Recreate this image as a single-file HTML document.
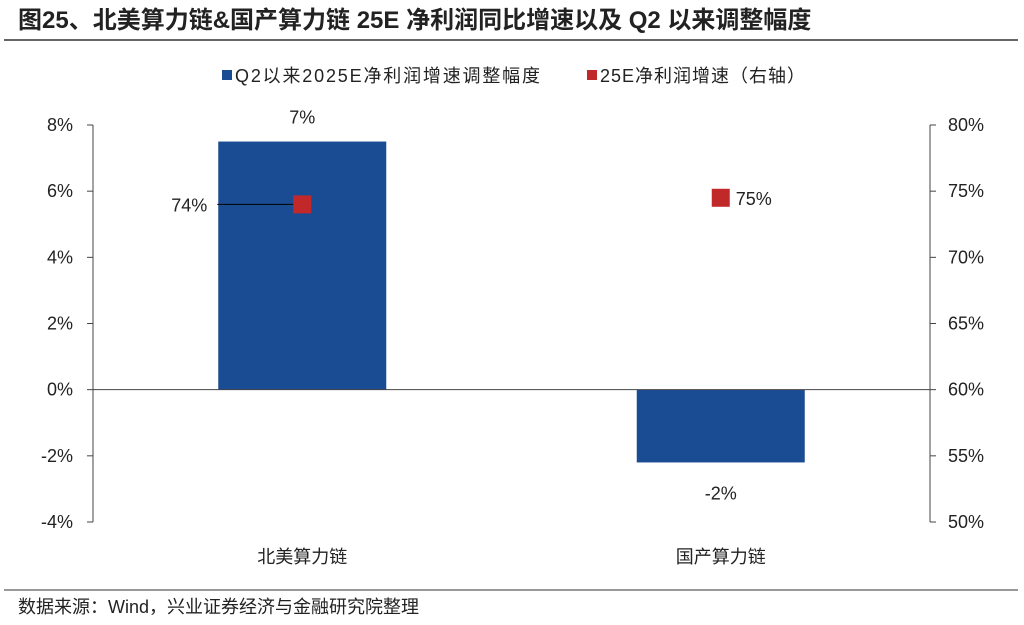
<!DOCTYPE html>
<html><head><meta charset="utf-8"><style>
body{margin:0;width:1024px;height:620px;background:#fff;font-family:"Liberation Sans","Noto Sans CJK SC",sans-serif;overflow:hidden}
svg text{font-family:"Liberation Sans","Noto Sans CJK SC",sans-serif}
</style></head><body>
<svg id="chart" width="1024" height="620">
<text x="18" y="28" font-size="24" font-weight="bold" fill="#222">图25、北美算力链&amp;国产算力链 25E 净利润同比增速以及 Q2 以来调整幅度</text>
<line x1="4" y1="40" x2="1018" y2="40" stroke="#333" stroke-width="1.5"/>
<g>
<rect x="222" y="70" width="10" height="10" fill="#1a4c94"/>
<text x="235" y="82" font-size="18" fill="#222" textLength="305">Q2以来2025E净利润增速调整幅度</text>
<rect x="587" y="70" width="10" height="10" fill="#c0282a"/>
<text x="600" y="82" font-size="18" fill="#222" textLength="205">25E净利润增速（右轴）</text>
</g>
<g id="plot"></g>
<line x1="4" y1="590" x2="1018" y2="590" stroke="#333" stroke-width="1"/>
<text x="18" y="613" font-size="18" fill="#222">数据来源：Wind，兴业证券经济与金融研究院整理</text>
</svg>
<script>
const categories=["北美算力链","国产算力链"];
const adjustValues=[7.5,-2.2];
const adjustLabels=["7%","-2%"];
const growthValues=[74.0,74.5];
const growthLabels=["74%","75%"];
const leftTicks=[-4,-2,0,2,4,6,8];
const rightTicks=[50,55,60,65,70,75,80];
const NS="http://www.w3.org/2000/svg";
const g=document.getElementById("plot");
const X0=93,X1=930,YT=125,YB=522;
const yL=v=>YB-(v+4)/12*(YB-YT);
const yR=v=>YB-(v-50)/30*(YB-YT);
const band=(X1-X0)/categories.length;
const xC=i=>X0+band*(i+0.5);
function mk(t,a,txt){const e=document.createElementNS(NS,t);for(const k in a)e.setAttribute(k,a[k]);if(txt!=null)e.textContent=txt;g.appendChild(e);return e;}
let e;
e=mk("line",{x1:X0,y1:YT,x2:X0,y2:YB,stroke:"#444"});


e=mk("line",{x1:X1,y1:YT,x2:X1,y2:YB,stroke:"#444"});


leftTicks.forEach(v=>{
 const y=yL(v);
 e=mk("line",{x1:X0-6,y1:y,x2:X0,y2:y,stroke:"#444"});
 
 
 e=mk("text",{x:X0-20,y:y+6,"text-anchor":"end","font-size":18,fill:"#222"},v+"%");
 
 
});
rightTicks.forEach(v=>{
 const y=yR(v);
 e=mk("line",{x1:X1,y1:y,x2:X1+6,y2:y,stroke:"#444"});
 
 
 e=mk("text",{x:X1+18,y:y+6,"font-size":18,fill:"#222"},v+"%");
 
 
});
const bw=168;
categories.forEach((c,i)=>{
 const v=adjustValues[i],y0=yL(0),y=yL(v);
 e=mk("rect",{x:xC(i)-bw/2,y:Math.min(y,y0),width:bw,height:Math.abs(y-y0),fill:"#1a4c94"});
 
 
 e=mk("text",{x:xC(i),y:v>=0?y-18:y+37,"text-anchor":"middle","font-size":18,fill:"#222"},adjustLabels[i]);
 
 
 e=mk("text",{x:xC(i),y:YB+41,"text-anchor":"middle","font-size":18,fill:"#222"},c);
 
 
});
e=mk("line",{x1:X0,y1:yL(0),x2:X1,y2:yL(0),stroke:"#444"});


growthValues.forEach((v,i)=>{
 const y=yR(v),x=xC(i);
 if(i===0){
  e=mk("line",{x1:x-85,y1:y,x2:x,y2:y,stroke:"#000"});
  
  
  e=mk("text",{x:x-95,y:y+7,"text-anchor":"end","font-size":18,fill:"#222"},growthLabels[i]);
 } else {
  e=mk("text",{x:x+15,y:y+7,"font-size":18,fill:"#222"},growthLabels[i]);
 }
 
 
 e=mk("rect",{x:x-9,y:y-9,width:18,height:18,fill:"#c0282a"});
 
 
});
</script>
</body></html>
